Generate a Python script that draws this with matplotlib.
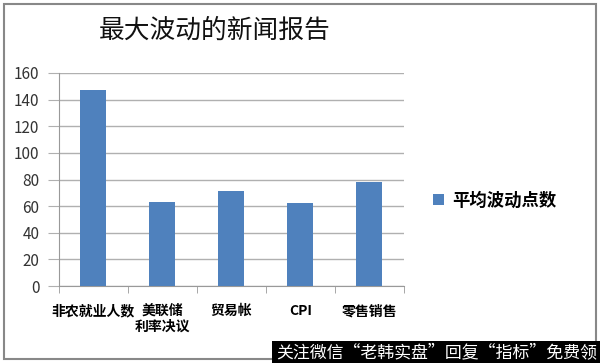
import matplotlib.pyplot as plt
from matplotlib.patches import Rectangle
import numpy as np

plt.rcParams['font.family'] = ['Noto Sans CJK SC', 'DejaVu Sans']

categories = ['非农就业人数', '美联储\n利率决议', '贸易帐', 'CPI', '零售销售']
values = [147, 63, 71, 62, 78]
yticks = [0, 20, 40, 60, 80, 100, 120, 140, 160]
series_name = '平均波动点数'
title = '最大波动的新闻报告'
watermark = '关注微信“老韩实盘”回复“指标”免费领'

fig = plt.figure(figsize=(6, 3.63), dpi=100)
ax = fig.add_axes([0.098, 0.212, 0.575, 0.587])

x = np.arange(len(categories))
ax.bar(x, values, width=0.38, color='#4F81BD', label=series_name, zorder=3)

ax.set_xlim(-0.5, len(categories) - 0.5)
ax.set_ylim(0, 160)
ax.set_yticks(yticks)
ax.grid(axis='y', color='#b0b0b0', linewidth=1, zorder=0)
ax.set_xticks(x)
ax.set_xticklabels(categories, fontsize=10, fontweight='bold', linespacing=1.1)
ax.set_xticks(np.arange(-0.5, len(categories)), minor=True)
ax.tick_params(axis='x', which='major', length=0, pad=13)
ax.tick_params(axis='x', which='minor', length=5, color='#999999', direction='out')
ax.tick_params(axis='y', length=8, color='#b0b0b0', labelsize=11, labelcolor='#333333', pad=6)

for s in ['top', 'right']:
    ax.spines[s].set_visible(False)
ax.spines['left'].set_color('#999999')
ax.spines['bottom'].set_color('#999999')

fig.text(0.358, 0.915, title, fontsize=18.5, ha='center', va='center', color='#111111')

ax.legend(loc='center left', bbox_to_anchor=(1.04, 0.40), frameon=False,
          prop={'size': 12.5, 'weight': 'bold'}, handlelength=0.6, handleheight=0.6,
          handletextpad=0.5)

fig.patches.append(Rectangle((0.006, 0.012), 0.988, 0.976, transform=fig.transFigure,
                             fill=False, edgecolor='#888888', linewidth=1.5))
fig.patches.append(Rectangle((0.453, 0.0), 0.547, 0.06, transform=fig.transFigure,
                             facecolor='black', edgecolor='none', zorder=5))
fig.text(0.728, 0.03, watermark, fontsize=12.2, color='white', ha='center', va='center',
         zorder=6)

fig.savefig('out.png', dpi=100)
